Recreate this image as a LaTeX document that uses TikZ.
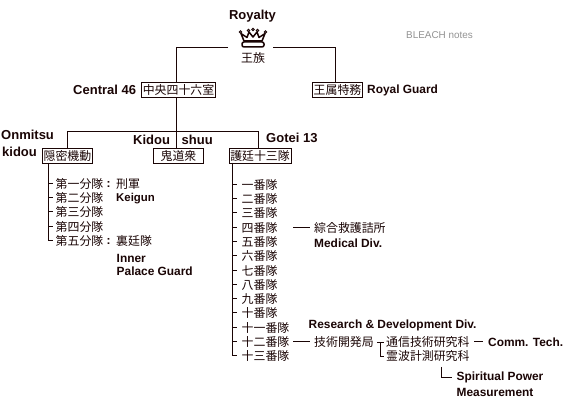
\documentclass[tikz,border=0pt]{standalone}
\usepackage{fontspec}
\setmainfont{Liberation Sans}
\newfontfamily\jp{Noto Sans CJK JP}
\definecolor{ink}{HTML}{1A0505}
\tikzset{
 x=1pt,y=-1pt,
 lat/.style={font=\fontsize{11.9}{14}\selectfont\bfseries,text=ink,inner sep=0pt,anchor=west},
 big/.style={font=\fontsize{13}{15}\selectfont\bfseries,text=ink,inner sep=0pt,anchor=west},
 kan/.style={font=\fontsize{11.9}{14}\jp,text=ink,inner sep=0pt,anchor=west},
 kbox/.style={font=\fontsize{11.9}{14}\jp,text=ink,draw=ink,line width=1pt,inner sep=0pt,minimum height=15pt},
 ln/.style={draw=ink,line width=1pt}
}
\begin{document}
\begin{tikzpicture}
\useasboundingbox (0,0) rectangle (576,411);
\fill[white] (0,0) rectangle (576,411);
\node[big,anchor=center] (royalty) at (252.5,16) {Royalty};
% crown
\draw[ink,line width=1.5pt,fill=white,line join=round] (244,41) -- (241,33.5) -- (247,37.5) -- (249,32) -- (253,37) -- (257,32) -- (259,37.5) -- (265,33.5) -- (262,41) -- cycle;
\draw[ink,line width=1.5pt,fill=white,rounded corners=2pt] (242,42) rectangle (264,47);
\foreach \p/\q in {240.5/32,248.5/30.5,253/29.5,257.5/30.5,265.5/32}{\filldraw[ink,fill=white,line width=.8pt] (\p,\q) circle (1.3pt);}
\node[kan,anchor=center] (ozoku) at (253,58) {王族};
\node[kbox,minimum width=74pt] (c46) at (178.5,90) {中央四十六室};
\node[big] (c46l) at (73,90) {Central 46};
\node[kbox,minimum width=50pt] (oz) at (337.5,90) {王属特務};
\node[lat] (ozl) at (367,90) {Royal Guard};
\node[font=\fontsize{9.9}{11}\selectfont,text=gray!85,inner sep=0pt,anchor=west] (notes) at (406,35) {BLEACH notes};
\coordinate (rl) at (228,47.5);
\coordinate (rr) at (273,47.5);
\draw[ln] (rl) -- (176.5,47.5) -- (176.5,82);
\draw[ln] (rr) -- (335.5,47.5) -- (335.5,82);
% second level
\node[kbox,minimum width=50pt] (onb) at (67.5,156) {隠密機動};
\node[kbox,minimum width=50pt] (kib) at (178.5,156) {鬼道衆};
\node[kbox,minimum width=62pt] (gob) at (260,156) {護廷十三隊};
\node[big] (on1) at (1,135) {Onmitsu};
\node[big] (on2) at (2,152) {kidou};
\node[big] (ki1) at (133,140) {Kidou};
\node[big] (ki2) at (181.5,140) {shuu};
\node[big] (go) at (266,138) {Gotei 13};
\draw[ln] (176.5,97.5) -- (176.5,148);
\draw[ln] (67.5,149) -- (67.5,131.5) -- (258.5,131.5) -- (258.5,148);
% left column
\draw[ln] (48.5,163) -- (48.5,240.5) -- (53,240.5);
\foreach \y/\t/\n in {184/第一分隊/la,198/第二分隊/lb,212/第三分隊/lc,226.5/第四分隊/ld,241/第五分隊/le}{
  \node[kan] (\n) at (55.5,\y) {\t};
  \draw[ln] (48.5,\y) -- (53,\y);
}
\node[lat] (c1) at (106.5,184) {:};
\node[lat] (c2) at (106.5,241) {:};
\node[kan] (keig) at (116,184) {刑軍};
\node[font=\fontsize{11.4}{14}\selectfont\bfseries,text=ink,inner sep=0pt,anchor=west] (keil) at (116,198.5) {Keigun};
\node[kan] (ura) at (116,241) {裏廷隊};
\node[lat] (ipg1) at (116.5,258.5) {Inner};
\node[lat] (ipg2) at (116.5,271.5) {Palace Guard};
% right column
\draw[ln] (232.5,163) -- (232.5,356) -- (237,356);
\foreach \y/\t/\n in {185/一番隊/ra,199/二番隊/rb,213/三番隊/rc,228/四番隊/rd,242/五番隊/re,256/六番隊/rf,270.5/七番隊/rg,284.5/八番隊/rh,299/九番隊/ri,313/十番隊/rj,327.5/十一番隊/rk,342/十二番隊/rl2,356/十三番隊/rm}{
  \node[kan] (\n) at (241.5,\y) {\t};
  \draw[ln] (232.5,\y) -- (237,\y);
}
\node[kan] (med) at (314,228) {綜合救護詰所};
\node[lat] (medl) at (314,243) {Medical Div.};
\draw[ln] (293,228) -- (310,228);
\node[lat] (rdl) at (308.5,325) {Research \& Development Div.};
\node[kan] (gij) at (314,342) {技術開発局};
\draw[ln] (293,342) -- (310,342);
\node[kan] (tsu) at (386,342) {通信技術研究科};
\node[kan] (rei) at (386,356) {霊波計測研究科};
\draw[ln] (377,342.5) -- (384,342.5) (380.5,342.5) -- (380.5,356.5) -- (384,356.5);
\draw[ln] (474,341.5) -- (483,341.5);
\node[lat] (com) at (488,342) {Comm. Tech.};
\draw[ln] (441.5,367) -- (441.5,377.5) -- (452,377.5);
\node[lat] (sp1) at (456.5,377) {Spiritual Power};
\node[lat] (sp2) at (456.5,392) {Measurement};
\end{tikzpicture}
\end{document}
